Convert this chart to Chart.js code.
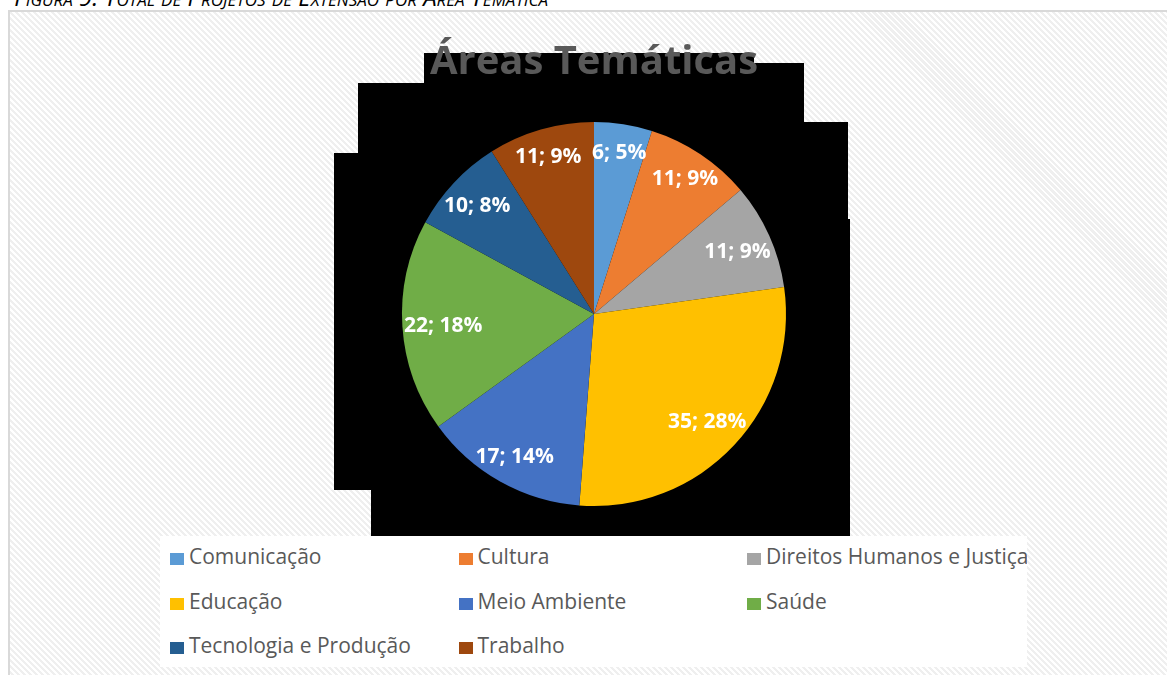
<!DOCTYPE html>
<html lang="pt-BR">
<head>
<meta charset="utf-8">
<title>Áreas Temáticas</title>
<script src="https://cdn.jsdelivr.net/npm/chart.js@4/dist/chart.umd.min.js"></script>
<style>
  html, body { margin: 0; padding: 0; background: #ffffff; }
  body { width: 1167px; height: 675px; position: relative; overflow: hidden; font-family: "Open Sans", sans-serif; }
  .caption {
    position: absolute; right: 619px; top: -15px;
    font-style: italic; font-variant: small-caps; font-size: 24px; line-height: 24px;
    color: #000; white-space: nowrap;
  }
  .frame {
    position: absolute; left: 8px; top: 10px; width: 1200px; height: 700px;
    border-left: 2px solid #d9d9d9; border-top: 2px solid #d9d9d9;
    background: repeating-linear-gradient(45deg, #ffffff 0px, #ffffff 2.1px, #efefef 2.1px, #efefef 4.24px);
  }
  #chart { position: absolute; left: 0; top: 0; }
  .legend {
    position: absolute; left: 160px; top: 536px; width: 867px; height: 131px; background: #ffffff;
    overflow: hidden;
  }
  .legend .item { position: absolute; height: 24px; line-height: 24px; font-size: 21px; color: #595959; white-space: nowrap; }
  .legend .swatch { position: absolute; left: 0; top: 9px; width: 14px; height: 12px; }
  .legend .text { position: absolute; left: 19px; top: 0; }
</style>
</head>
<body>
<div class="frame"></div>
<div class="caption">Figura 9: Total de Projetos de Extensão por Área Temática</div>
<canvas id="chart" width="1167" height="675"></canvas>
<div class="legend" id="legend"></div>
<script>
// Projetos de extensão por área temática
const areas = [
  'Comunicação', 'Cultura', 'Direitos Humanos e Justiça', 'Educação',
  'Meio Ambiente', 'Saúde', 'Tecnologia e Produção', 'Trabalho'
];
const projetos = [6, 11, 11, 35, 17, 22, 10, 11];
const cores = ['#5B9BD5', '#ED7D31', '#A5A5A5', '#FFC000', '#4472C4', '#70AD47', '#255E91', '#9E480E'];

const total = projetos.reduce((a, b) => a + b, 0);

// dark backdrop behind the pie
const backdrop = {
  id: 'backdrop',
  beforeDraw(chart) {
    const ctx = chart.ctx;
    ctx.save();
    ctx.fillStyle = '#000000';
    const blocks = [
      [424, 53, 754, 63],
      [424, 63, 804, 83],
      [358, 83, 804, 122],
      [358, 122, 848, 153],
      [334, 153, 848, 219],
      [334, 219, 850, 490],
      [371, 490, 850, 537]
    ];
    blocks.forEach(([x0, y0, x1, y1]) => ctx.fillRect(x0, y0, x1 - x0, y1 - y0));
    ctx.restore();
  }
};

// "valor; percentual" inside each slice, pushed out toward the rim
const sliceLabels = {
  id: 'sliceLabels',
  afterDatasetsDraw(chart) {
    const ctx = chart.ctx;
    const meta = chart.getDatasetMeta(0);
    const data = chart.data.datasets[0].data;
    ctx.save();
    ctx.font = 'bold 21px "Open Sans", sans-serif';
    ctx.fillStyle = '#ffffff';
    ctx.textAlign = 'center';
    ctx.textBaseline = 'middle';
    meta.data.forEach((arc, i) => {
      const p = arc.getProps(['x', 'y', 'startAngle', 'endAngle', 'outerRadius'], true);
      const mid = (p.startAngle + p.endAngle) / 2;
      const ux = Math.cos(mid), uy = Math.sin(mid);
      const txt = data[i] + '; ' + Math.round(data[i] / total * 100) + '%';
      const hw = ctx.measureText(txt).width / 2, hh = 8;
      const r = p.outerRadius;
      let d = r * 0.86;
      while (d > 0) {
        const cx = d * ux, cy = d * uy;
        const fx = cx + Math.sign(ux || 1) * hw, fy = cy + Math.sign(uy || 1) * hh;
        if (Math.hypot(fx, fy) <= r - 1) break;
        d -= 1;
      }
      ctx.fillText(txt, p.x + d * ux, p.y + d * uy + 2);
    });
    ctx.restore();
  }
};

new Chart(document.getElementById('chart'), {
  type: 'pie',
  data: {
    labels: areas,
    datasets: [{ data: projetos, backgroundColor: cores, borderWidth: 0 }]
  },
  options: {
    responsive: false,
    animation: false,
    devicePixelRatio: 1,
    layout: { padding: { left: 402, right: 381, top: 10, bottom: 169 } },
    plugins: {
      legend: { display: false },
      tooltip: { enabled: false },
      title: {
        display: true,
        text: 'Áreas Temáticas',
        color: '#595959',
        font: { family: '"Open Sans", sans-serif', size: 40, weight: 'bold' },
        padding: { top: 29, bottom: 35 }
      }
    }
  },
  plugins: [backdrop, sliceLabels]
});

// legend in three columns
const legend = document.getElementById('legend');
areas.forEach((nome, i) => {
  const item = document.createElement('div');
  item.className = 'item';
  item.style.left = (10 + (i % 3) * 288.5) + 'px';
  item.style.top = (8 + Math.floor(i / 3) * 44.5) + 'px';
  const sw = document.createElement('span');
  sw.className = 'swatch';
  sw.style.background = cores[i];
  const tx = document.createElement('span');
  tx.className = 'text';
  tx.textContent = nome;
  item.appendChild(sw);
  item.appendChild(tx);
  legend.appendChild(item);
});
</script>
</body>
</html>
